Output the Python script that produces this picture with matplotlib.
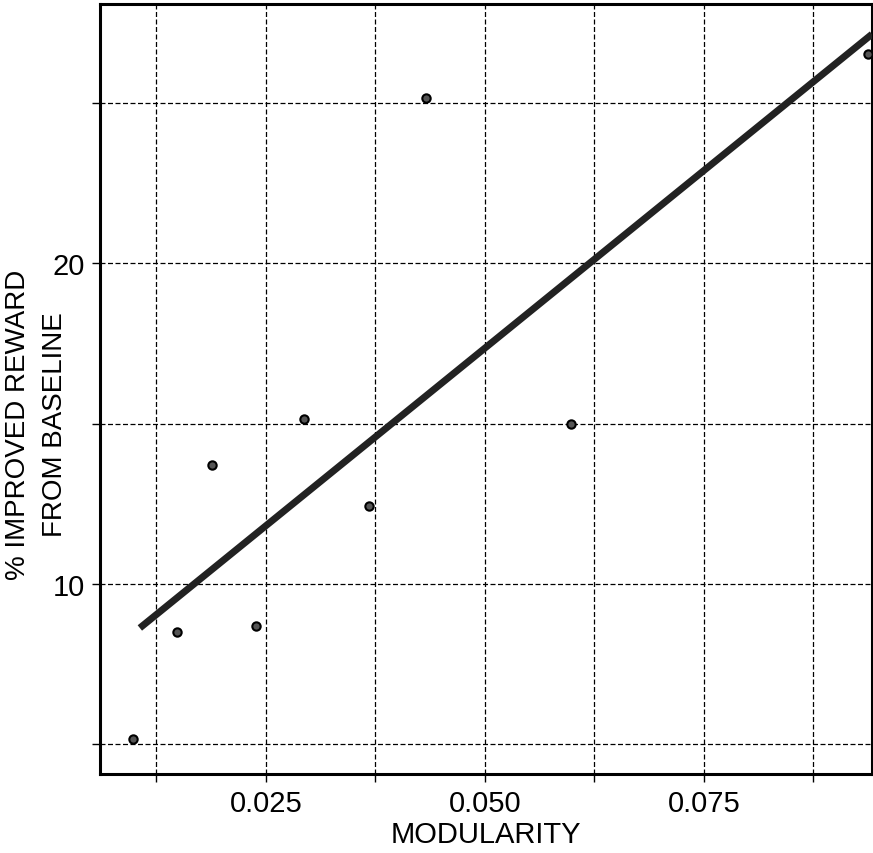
import matplotlib
matplotlib.use("Agg")
import matplotlib.pyplot as plt
from matplotlib import font_manager

# Data
modularity = [0.0098, 0.0148, 0.0188, 0.0239, 0.0293, 0.0368, 0.0433, 0.0598, 0.0937]
improved_reward = [5.17, 8.50, 13.71, 8.69, 15.14, 12.43, 25.14, 14.98, 26.51]
fit_x = [0.0106, 0.0942]
fit_y = [8.63, 27.13]

x_ticks = [0.0125, 0.025, 0.0375, 0.050, 0.0625, 0.075, 0.0875]
x_labels = ["", "0.025", "", "0.050", "", "0.075", ""]
y_ticks = [5, 10, 15, 20, 25]
y_labels = ["", "10", "", "20", ""]

names = {f.name for f in font_manager.fontManager.ttflist}
fam = ["Liberation Sans Narrow", "DejaVu Sans"] if "Liberation Sans Narrow" in names else ["Liberation Sans", "DejaVu Sans"]
plt.rcParams['font.family'] = fam

fig = plt.figure(figsize=(8.73, 8.54), dpi=100)
ax = fig.add_axes([100/873, 1-775/854, 772/873, 770/854])

ax.set_xlim(0.00605, 0.0942)
ax.set_ylim(4.08, 28.07)

ax.set_xticks(x_ticks)
ax.set_xticklabels(x_labels)
ax.set_yticks(y_ticks)
ax.set_yticklabels(y_labels)
ax.tick_params(direction='out', length=6, width=1, colors='black', labelsize=21, pad=5)

ax.grid(True, linestyle=(0, (4, 2)), color='black', linewidth=0.9)
ax.set_axisbelow(True)
for s in ax.spines.values():
    s.set_linewidth(2.2)
    s.set_color('black')

ax.plot(fit_x, fit_y, color='#222222', linewidth=5, solid_capstyle='butt', zorder=3)
ax.scatter(modularity, improved_reward, s=36, facecolor='#555555', edgecolor='black', linewidth=1.5, zorder=4)

fig.text(486/873, 1-835/854, "MODULARITY", ha='center', va='center', fontsize=21)
fig.text(18/873, 1-425/854, "% IMPROVED REWARD", rotation=90, ha='center', va='center', fontsize=20)
fig.text(55/873, 1-425/854, "FROM BASELINE", rotation=90, ha='center', va='center', fontsize=20)

fig.savefig("out.png", dpi=100)
